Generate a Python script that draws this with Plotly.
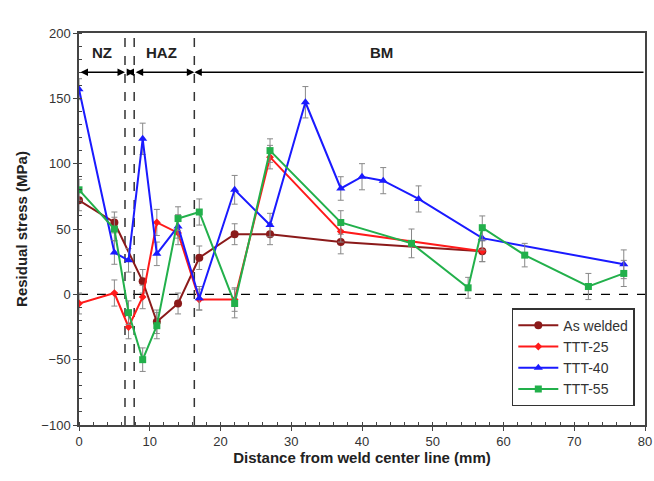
import plotly.graph_objects as go

# ---- data ----
aw_x = [0, 5, 9, 11, 14, 17, 22, 27, 37, 57]
aw_y = [72, 55, 10, -21, -7, 28, 46, 46, 40, 33]
aw_e = [8, 8, 9, 9, 8, 9, 8, 8, 9, 8]

t25_x = [0, 5, 7, 9, 11, 14, 17, 22, 27, 37, 57]
t25_y = [-7, 1, -25, -2, 55, 47, -4, -4, 105, 48, 33]
t25_e = [8, 10, 9, 9, 10, 9, 8, 9, 9, 8, 8]

t40_x = [0, 5, 7, 9, 11, 14, 17, 22, 27, 32, 37, 40, 43, 48, 57, 77]
t40_y = [157, 32, 26, 119, 31, 52, -3, 80, 53, 147, 81, 90, 87, 73, 43, 23]
t40_e = [8, 9, 9, 12, 9, 9, 9, 11, 9, 12, 9, 10, 10, 10, 9, 11]

t55_x = [0, 5, 7, 9, 11, 14, 17, 22, 27, 37, 47, 55, 57, 63, 72, 77]
t55_y = [80, 50, -14, -50, -24, 58, 63, -7, 110, 55, 39, 5, 51, 30, 6, 16]
t55_e = [8, 9, 9, 9, 10, 9, 10, 11, 9, 9, 11, 8, 9, 9, 10, 10]

zone_bounds = [0, 6.5, 7.8, 16.3, 80]
zone_labels = ["NZ", "HAZ", "BM"]
zone_label_x = [3.25, 11.7, 42.7]
tmaz_label_x = 7.2

names = ["As welded", "TTT-25", "TTT-40", "TTT-55"]
colors = ["#8B1A1A", "#FF1A1A", "#1A1AFF", "#22B04B"]
symbols = ["circle", "diamond", "triangle-up", "square"]
sizes = [8, 6, 8, 7]

fig = go.Figure()
series = [(aw_x, aw_y, aw_e), (t25_x, t25_y, t25_e), (t40_x, t40_y, t40_e), (t55_x, t55_y, t55_e)]
for (xs, ys, es), n, c, s, sz in zip(series, names, colors, symbols, sizes):
    fig.add_trace(go.Scatter(
        x=xs, y=ys, name=n, mode="lines+markers",
        line=dict(color=c, width=2),
        marker=dict(color=c, symbol=s, size=sz),
        error_y=dict(type="data", array=es, visible=True, color="#888888", thickness=1, width=3),
    ))

# dashed reference lines
fig.add_shape(type="line", x0=0, x1=80, y0=0, y1=0, xref="x", yref="y",
              line=dict(color="black", width=1.2, dash="dash"), layer="below")
for b in zone_bounds[1:4]:
    fig.add_shape(type="line", x0=b, x1=b, y0=-100, y1=200, xref="x", yref="y",
                  line=dict(color="#333333", width=1.5, dash="dash"), layer="below")

# zone arrows
arrow_y = 170
nz = len(zone_bounds) - 1
for i, (a, b) in enumerate(zip(zone_bounds[:-1], zone_bounds[1:])):
    side = "end+start" if i < nz - 1 else "end"
    if i < nz - 1:
        hx, tx = b, a
    else:
        hx, tx = a, b
    fig.add_annotation(x=hx, y=arrow_y, ax=tx, ay=arrow_y, xref="x", yref="y",
                       axref="x", ayref="y", text="", showarrow=True,
                       arrowhead=2, arrowside=side, arrowsize=1,
                       arrowwidth=1.5, arrowcolor="black", standoff=0, startstandoff=0)

for lab, lx in zip(zone_labels, zone_label_x):
    fig.add_annotation(x=lx, y=185, xref="x", yref="y", text="<b>%s</b>" % lab,
                       showarrow=False, font=dict(size=15, color="#222222"))
fig.add_annotation(x=tmaz_label_x, y=213, xref="x", yref="y", text="<b>TMAZ</b>",
                   showarrow=False, font=dict(size=15, color="#222222"))

fig.update_layout(
    width=654, height=481,
    margin=dict(l=79, r=9, t=33, b=56, autoexpand=False),
    paper_bgcolor="white", plot_bgcolor="white",
    font=dict(family="Liberation Sans, Arial, sans-serif", size=13, color="#333333"),
    showlegend=True,
    legend=dict(x=0.982, y=0.298, xanchor="right", yanchor="top",
                bgcolor="white", bordercolor="#333333", borderwidth=1.5,
                font=dict(size=14, color="#333333"), tracegroupgap=2,
                itemwidth=40),
)
fig.update_xaxes(
    range=[0, 80], dtick=10, showgrid=False, zeroline=False, automargin=False,
    showline=True, linecolor="#444444", linewidth=1.5, mirror=True,
    ticks="outside", ticklen=4, tickcolor="#444444",
    minor=dict(dtick=2, ticks="inside", ticklen=3, tickcolor="#444444"),
    title=dict(text="<b>Distance from weld center line (mm)</b>", font=dict(size=15, color="#222222"), standoff=4),
)
fig.update_yaxes(
    range=[-100, 200], dtick=50, showgrid=False, zeroline=False, automargin=False,
    showline=True, linecolor="#444444", linewidth=1.5, mirror=True,
    ticks="outside", ticklen=4, tickcolor="#444444",
    minor=dict(dtick=10, ticks="inside", ticklen=3, tickcolor="#444444"),
    title=dict(text="<b>Residual stress (MPa)</b>", font=dict(size=15, color="#222222"), standoff=10),
)

fig.write_html("out.html")
